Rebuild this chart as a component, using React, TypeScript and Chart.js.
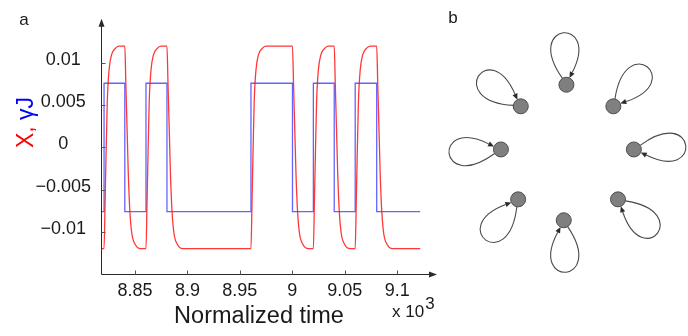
import React, { useEffect, useRef } from "react";
import { Chart, registerables } from "chart.js";
Chart.register(...registerables);

// ---------- Panel a data ----------
const timeStart = 8.8176;
const timeEnd = 9.138;
const xTickValues = [8.85, 8.9, 8.95, 9, 9.05, 9.1];
const xTickLabels = ["8.85", "8.9", "8.95", "9", "9.05", "9.1"];
const yTickValues = [0.01, 0.005, 0, -0.005, -0.01];
const yTickLabels = ["0.01", "0.005", "0", "\u22120.005", "\u22120.01"];

// blue (γJ) step signal, corner points
const blueTime = [
  8.8176, 8.8205, 8.8205, 8.8403, 8.8403, 8.8605, 8.8605, 8.8805, 8.8805,
  8.9606, 8.9606, 9.0002, 9.0002, 9.0201, 9.0201, 9.04, 9.04, 9.06, 9.06,
  9.0805, 9.0805, 9.122,
];
const blueValue = [
  -0.0076, -0.0076, 0.0076, 0.0076, -0.0076, -0.0076, 0.0076, 0.0076, -0.0076,
  -0.0076, 0.0076, 0.0076, -0.0076, -0.0076, 0.0076, 0.0076, -0.0076, -0.0076,
  0.0076, 0.0076, -0.0076, -0.0076,
];

// red (X) response
const redTime = [
  8.8176,
  8.8205, 8.8215, 8.8224, 8.8236, 8.8253, 8.8277, 8.831, 8.8348,
  8.8403, 8.8413, 8.8425, 8.8436, 8.8451, 8.847, 8.8503, 8.8556,
  8.8605, 8.8615, 8.8624, 8.8636, 8.8653, 8.8677, 8.871, 8.8748,
  8.8805, 8.8815, 8.8827, 8.8838, 8.8853, 8.8872, 8.8905, 8.8958,
  8.9606, 8.9616, 8.9625, 8.9637, 8.9654, 8.9678, 8.9711, 8.9749,
  9.0002, 9.0012, 9.0024, 9.0035, 9.005, 9.0069, 9.0102, 9.0155,
  9.0201, 9.0211, 9.022, 9.0232, 9.0249, 9.0273, 9.0306, 9.0344,
  9.04, 9.041, 9.0422, 9.0433, 9.0448, 9.0467, 9.05, 9.0553,
  9.06, 9.061, 9.0619, 9.0631, 9.0648, 9.0672, 9.0705, 9.0743,
  9.0805, 9.0815, 9.0827, 9.0838, 9.0853, 9.0872, 9.0905, 9.0958,
  9.122,
];
const redValue = [
  -0.012,
  -0.012, -0.0065, -0.001, 0.0055, 0.0092, 0.011, 0.0117, 0.012,
  0.012, 0.0075, 0.002, -0.003, -0.0075, -0.0102, -0.0115, -0.012,
  -0.012, -0.0065, -0.001, 0.0055, 0.0092, 0.011, 0.0117, 0.012,
  0.012, 0.0075, 0.002, -0.003, -0.0075, -0.0102, -0.0115, -0.012,
  -0.012, -0.0065, -0.001, 0.0055, 0.0092, 0.011, 0.0117, 0.012,
  0.012, 0.0075, 0.002, -0.003, -0.0075, -0.0102, -0.0115, -0.012,
  -0.012, -0.0065, -0.001, 0.0055, 0.0092, 0.011, 0.0117, 0.012,
  0.012, 0.0075, 0.002, -0.003, -0.0075, -0.0102, -0.0115, -0.012,
  -0.012, -0.0065, -0.001, 0.0055, 0.0092, 0.011, 0.0117, 0.012,
  0.012, 0.0075, 0.002, -0.003, -0.0075, -0.0102, -0.0115, -0.012,
  -0.012,
];

// ---------- Panel b data ----------
const nodeX = [-0.01, 0.7, 1.01, 0.77, -0.05, -0.74, -1.0, -0.7];
const nodeY = [1.0, 0.68, 0.04, -0.7, -1.01, -0.7, 0.04, 0.68];
const loopAngleDeg = [94, 50, 5, -40, -87, -128, 185, 145];

const FONT = "'Liberation Sans', Arial, Helvetica, sans-serif";
const TEXT = "#1a1a1a";
Chart.defaults.font.family = FONT;

const axesPlugin = {
  id: "axesA",
  afterDraw(chart: any) {
    const { ctx, chartArea: ca, scales } = chart;
    const xs = scales.x;
    const ys = scales.y;
    ctx.save();
    ctx.strokeStyle = "#2a2a2a";
    ctx.fillStyle = "#2a2a2a";
    ctx.lineWidth = 1;
    const ax = Math.round(ca.left) + 0.5;
    const ay = Math.round(ca.bottom) + 0.5;
    ctx.beginPath();
    ctx.moveTo(ax, ay);
    ctx.lineTo(ax, ca.top + 4);
    ctx.moveTo(ax, ay);
    ctx.lineTo(ca.right - 5, ay);
    ctx.stroke();
    // arrows
    ctx.beginPath();
    ctx.moveTo(ax, ca.top - 2);
    ctx.lineTo(ax - 3, ca.top + 6);
    ctx.lineTo(ax + 3, ca.top + 6);
    ctx.closePath();
    ctx.fill();
    ctx.beginPath();
    ctx.moveTo(ca.right, ay);
    ctx.lineTo(ca.right - 8, ay - 3);
    ctx.lineTo(ca.right - 8, ay + 3);
    ctx.closePath();
    ctx.fill();
    // inner ticks
    ctx.strokeStyle = "#555";
    ctx.beginPath();
    yTickValues.forEach((v) => {
      const py = Math.round(ys.getPixelForValue(v)) + 0.5;
      ctx.moveTo(ax, py);
      ctx.lineTo(ax + 4, py);
    });
    xTickValues.forEach((v) => {
      const px = Math.round(xs.getPixelForValue(v)) + 0.5;
      ctx.moveTo(px, ay);
      ctx.lineTo(px, ay - 4);
    });
    ctx.stroke();

    // panel label
    ctx.fillStyle = TEXT;
    ctx.font = `17px ${FONT}`;
    ctx.textAlign = "center";
    ctx.textBaseline = "middle";
    ctx.fillText("a", 24, 20);

    // x title
    ctx.font = `23.5px ${FONT}`;
    ctx.fillText("Normalized time", ca.left + 158, 316.5);

    // x 10^3
    ctx.font = `17px ${FONT}`;
    ctx.textAlign = "left";
    ctx.textBaseline = "alphabetic";
    ctx.fillText("x 10", 392, 317);
    const w = ctx.measureText("x 10").width;
    ctx.fillText("3", 392 + w + 1, 308.5);

    // y title, two colours
    ctx.font = `23px ${FONT}`;
    const p1 = "X, ";
    const p2 = "\u03b3J";
    const w1 = ctx.measureText(p1).width;
    const w2 = ctx.measureText(p2).width;
    ctx.translate(33, 122.5);
    ctx.rotate(-Math.PI / 2);
    ctx.textAlign = "left";
    ctx.fillStyle = "#ff0000";
    ctx.fillText(p1, -(w1 + w2) / 2, 0);
    ctx.fillStyle = "#0000ff";
    ctx.fillText(p2, -(w1 + w2) / 2 + w1, 0);
    ctx.restore();
  },
};

const loopPlugin = {
  id: "loopsB",
  beforeDatasetsDraw(chart: any) {
    const { ctx, scales } = chart;
    const xs = scales.x;
    const ys = scales.y;
    const ppu = Math.abs(xs.getPixelForValue(1) - xs.getPixelForValue(0));
    const r = 7.5;
    const D = 1.17 * ppu;
    const a0 = (28 * Math.PI) / 180;
    const a1 = (31 * Math.PI) / 180;
    ctx.save();
    ctx.strokeStyle = "#4a4a4a";
    ctx.fillStyle = "#2a2a2a";
    ctx.lineWidth = 1.1;
    for (let i = 0; i < nodeX.length; i++) {
      const cx = xs.getPixelForValue(nodeX[i]);
      const cy = ys.getPixelForValue(nodeY[i]);
      const th = (loopAngleDeg[i] * Math.PI) / 180;
      const pt = (a: number, d: number) => [cx + d * Math.cos(a), cy - d * Math.sin(a)];
      const P0 = pt(th + a0, r);
      const P1 = pt(th + a1, D);
      const P2 = pt(th - a1, D);
      const P3 = pt(th - a0, r);
      let tx = P3[0] - P2[0];
      let ty = P3[1] - P2[1];
      const tl = Math.hypot(tx, ty);
      tx /= tl;
      ty /= tl;
      const bx = P3[0] - tx * 6;
      const by = P3[1] - ty * 6;
      ctx.beginPath();
      ctx.moveTo(P0[0], P0[1]);
      ctx.bezierCurveTo(P1[0], P1[1], P2[0], P2[1], bx, by);
      ctx.stroke();
      ctx.beginPath();
      ctx.moveTo(P3[0], P3[1]);
      ctx.lineTo(bx - ty * 2.6, by + tx * 2.6);
      ctx.lineTo(bx + ty * 2.6, by - tx * 2.6);
      ctx.closePath();
      ctx.fill();
    }
    ctx.font = `17px ${FONT}`;
    ctx.fillStyle = TEXT;
    ctx.textAlign = "center";
    ctx.textBaseline = "middle";
    ctx.fillText("b", 13, 18);
    ctx.restore();
  },
};

export default function App() {
  const leftRef = useRef<HTMLCanvasElement>(null);
  const rightRef = useRef<HTMLCanvasElement>(null);

  useEffect(() => {
    const c1 = new Chart(leftRef.current as HTMLCanvasElement, {
      type: "line",
      data: {
        datasets: [
          {
            label: "X",
            data: redTime.map((t, i) => ({ x: t, y: redValue[i] })),
            borderColor: "rgba(255,20,20,0.85)",
            borderWidth: 1.3,
            pointRadius: 0,
            cubicInterpolationMode: "monotone",
          },
          {
            label: "\u03b3J",
            data: blueTime.map((t, i) => ({ x: t, y: blueValue[i] })),
            borderColor: "rgba(60,60,255,0.8)",
            borderWidth: 1.3,
            pointRadius: 0,
            tension: 0,
          },
        ],
      },
      options: {
        animation: false,
        responsive: false,
        devicePixelRatio: 1,
        layout: { padding: { top: 10, right: 3, left: 0, bottom: 0 } },
        plugins: { legend: { display: false }, tooltip: { enabled: false } },
        scales: {
          x: {
            type: "linear",
            min: timeStart,
            max: timeEnd,
            afterBuildTicks: (s: any) => {
              s.ticks = xTickValues.map((v) => ({ value: v }));
            },
            afterFit: (s: any) => {
              s.height = 62;
            },
            ticks: {
              callback: (_v: any, i: number) => xTickLabels[i],
              font: { size: 18 },
              color: TEXT,
              padding: 6,
              maxRotation: 0,
              autoSkip: false,
            },
            grid: { display: false, drawTicks: false },
            border: { display: false },
          },
          y: {
            type: "linear",
            min: -0.015,
            max: 0.015,
            afterBuildTicks: (s: any) => {
              s.ticks = yTickValues.map((v) => ({ value: v }));
            },
            afterFit: (s: any) => {
              s.width = 101;
            },
            ticks: {
              callback: (_v: any, i: number) => yTickLabels[i],
              font: { size: 18 },
              color: TEXT,
              padding: 10,
              crossAlign: "center",
              labelOffset: -3,
              autoSkip: false,
            },
            grid: { display: false, drawTicks: false },
            border: { display: false },
          },
        },
      },
      plugins: [axesPlugin],
    } as any);

    const c2 = new Chart(rightRef.current as HTMLCanvasElement, {
      type: "scatter",
      data: {
        datasets: [
          {
            data: nodeX.map((x, i) => ({ x, y: nodeY[i] })),
            pointRadius: 7.5,
            pointHoverRadius: 7.5,
            backgroundColor: "#7f7f7f",
            borderColor: "#4d4d4d",
            borderWidth: 1,
          },
        ],
      },
      options: {
        animation: false,
        responsive: false,
        devicePixelRatio: 1,
        layout: { padding: 0 },
        plugins: { legend: { display: false }, tooltip: { enabled: false } },
        scales: {
          x: { type: "linear", display: false, min: -1.793, max: 1.7 },
          y: { type: "linear", display: false, min: -2.601, max: 2.131 },
        },
      },
      plugins: [loopPlugin],
    } as any);

    return () => {
      c1.destroy();
      c2.destroy();
    };
  }, []);

  return (
    <div style={{ position: "fixed", left: 0, top: 0, width: 688, height: 336, background: "#fff" }}>
      <canvas
        ref={leftRef}
        width={440}
        height={336}
        style={{ position: "absolute", left: 0, top: 0, width: 440, height: 336 }}
      />
      <canvas
        ref={rightRef}
        width={248}
        height={336}
        style={{ position: "absolute", left: 440, top: 0, width: 248, height: 336 }}
      />
    </div>
  );
}
